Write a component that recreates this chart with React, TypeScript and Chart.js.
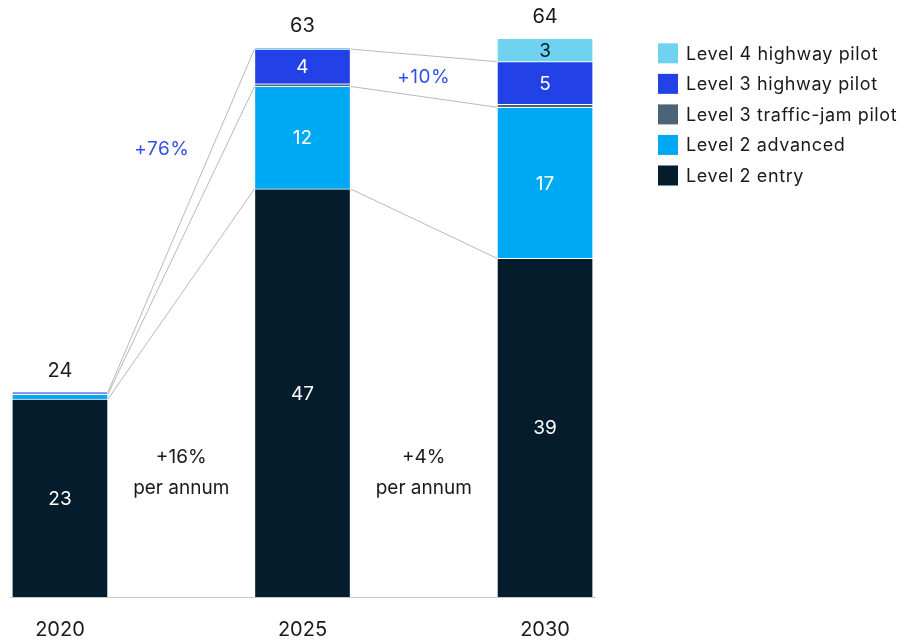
import { useEffect, useRef } from 'react';
import { Chart, registerables } from 'chart.js';

Chart.register(...registerables);

// ---- data ----
const years = ['2020', '2025', '2030'];
const seriesNames = [
  'Level 2 entry',
  'Level 2 advanced',
  'Level 3 traffic-jam pilot',
  'Level 3 highway pilot',
  'Level 4 highway pilot',
];
const level2Entry = [22.8, 47, 39];
const level2Advanced = [0.55, 11.8, 17.4];
const level3TrafficJam = [0.05, 0.3, 0.35];
const level3Highway = [0.2, 4.0, 4.9];
const level4Highway = [0, 0.2, 2.7];
const growthTotal = ['+76%', '+10%'];
const growthAnnual = ['+16%', '+4%'];
const annualSuffix = 'per annum';

const series = [level2Entry, level2Advanced, level3TrafficJam, level3Highway, level4Highway];

// ---- style ----
const seriesColors = ['#051c2c', '#00a9f4', '#4b6577', '#2241e6', '#6fd3f0'];
const labelColors = ['#ffffff', '#ffffff', '#ffffff', '#ffffff', '#051c2c'];
const FONT = 'Inter, "Liberation Sans", sans-serif';
const TEXT = '#1a1a1a';
const BLUE = '#3350ea';

const overlay = {
  id: 'overlay',
  afterDatasetsDraw(chart: any) {
    const ctx = chart.ctx as CanvasRenderingContext2D;
    const xs = chart.scales.x;
    const ys = chart.scales.y;
    const n = series.length;
    ctx.save();

    // connector lines
    ctx.strokeStyle = '#b8b8b8';
    ctx.lineWidth = 1;
    [0, 1, 3].forEach((d) => {
      const els = chart.getDatasetMeta(d).data;
      for (let i = 0; i < els.length - 1; i++) {
        const a = els[i].getProps(['x', 'y', 'width'], true);
        const b = els[i + 1].getProps(['x', 'y', 'width'], true);
        ctx.beginPath();
        ctx.moveTo(a.x + a.width / 2, a.y);
        ctx.lineTo(b.x - b.width / 2, b.y);
        ctx.stroke();
      }
    });

    // segment value labels
    ctx.textAlign = 'center';
    ctx.textBaseline = 'middle';
    ctx.font = `19px ${FONT}`;
    for (let d = 0; d < n; d++) {
      const els = chart.getDatasetMeta(d).data;
      els.forEach((el: any, i: number) => {
        const v = series[d][i];
        if (v < 2) return;
        const p = el.getProps(['x', 'y', 'base'], true);
        ctx.fillStyle = labelColors[d];
        ctx.fillText(String(Math.round(v)), p.x, (p.y + p.base) / 2 + 1);
      });
    }

    // totals
    ctx.fillStyle = TEXT;
    ctx.font = `20px ${FONT}`;
    years.forEach((_, i) => {
      let total = 0;
      for (let d = 0; d < n; d++) total += series[d][i];
      const x = xs.getPixelForValue(i);
      const y = ys.getPixelForValue(total);
      ctx.fillText(String(Math.round(total)), x, y - 21);
    });

    // growth annotations
    ctx.font = `19px ${FONT}`;
    const totalPos = [
      [0.42, 51.6],
      [1.5, 59.9],
    ];
    ctx.letterSpacing = '0.5px';
    growthTotal.forEach((t, i) => {
      ctx.fillStyle = BLUE;
      ctx.fillText(t, xs.getPixelForValue(totalPos[i][0]), ys.getPixelForValue(totalPos[i][1]));
    });
    ctx.letterSpacing = '0px';
    growthAnnual.forEach((t, i) => {
      const x = xs.getPixelForValue(i + 0.5);
      ctx.fillStyle = TEXT;
      ctx.fillText(t, x, ys.getPixelForValue(16.1));
      ctx.fillText(annualSuffix, x, ys.getPixelForValue(12.5));
    });
    ctx.restore();
  },
  afterDraw(chart: any) {
    const ctx = chart.ctx as CanvasRenderingContext2D;
    ctx.save();
    ctx.font = `18px ${FONT}`;
    ctx.letterSpacing = '0.6px';
    ctx.textAlign = 'left';
    ctx.textBaseline = 'middle';
    const ds = chart.data.datasets;
    const order = ds.map((_: any, i: number) => i).reverse();
    order.forEach((d: number, k: number) => {
      const cy = 53.3 + k * 30.55;
      ctx.fillStyle = ds[d].backgroundColor;
      ctx.fillRect(658, cy - 10, 20, 20);
      ctx.fillStyle = TEXT;
      ctx.fillText(ds[d].label, 686, cy + 1);
    });
    ctx.restore();
  },
};

export default function App() {
  const ref = useRef<HTMLCanvasElement>(null);
  useEffect(() => {
    if (!ref.current) return;
    Chart.defaults.font.family = FONT;
    const chart = new Chart(ref.current, {
      type: 'bar',
      data: {
        datasets: series.map((vals, d) => ({
          label: seriesNames[d],
          data: vals.map((v, i) => ({ x: i, y: v })),
          backgroundColor: seriesColors[d],
          borderColor: '#ffffff',
          borderWidth: 1,
          barThickness: 96,
        })) as any,
      },
      options: {
        animation: false,
        responsive: true,
        maintainAspectRatio: false,
        layout: { padding: { left: 10, right: 317, top: 10, bottom: 0 } },
        plugins: {
          legend: { display: false },
          tooltip: { enabled: false },
        },
        scales: {
          x: {
            type: 'linear',
            min: -0.206,
            max: 2.206,
            stacked: true,
            offset: false,
            grid: { display: false, drawTicks: false },
            border: { display: true, color: '#c8c8c8', width: 1 },
            afterBuildTicks: (axis: any) => {
              axis.ticks = years.map((_, i) => ({ value: i }));
            },
            afterFit: (axis: any) => {
              axis.height = 43;
            },
            ticks: {
              autoSkip: false,
              maxRotation: 0,
              padding: 21,
              color: TEXT,
              font: { size: 20, family: FONT },
              callback: (v: any) => years[v as number] ?? '',
            },
          },
          y: {
            display: false,
            stacked: true,
            min: 0,
            max: 67.6,
          },
        },
      },
      plugins: [overlay],
    });
    return () => chart.destroy();
  }, []);
  return (
    <div style={{ position: 'fixed', left: 0, top: 0, width: 912, height: 640 }}>
      <canvas ref={ref} />
    </div>
  );
}
